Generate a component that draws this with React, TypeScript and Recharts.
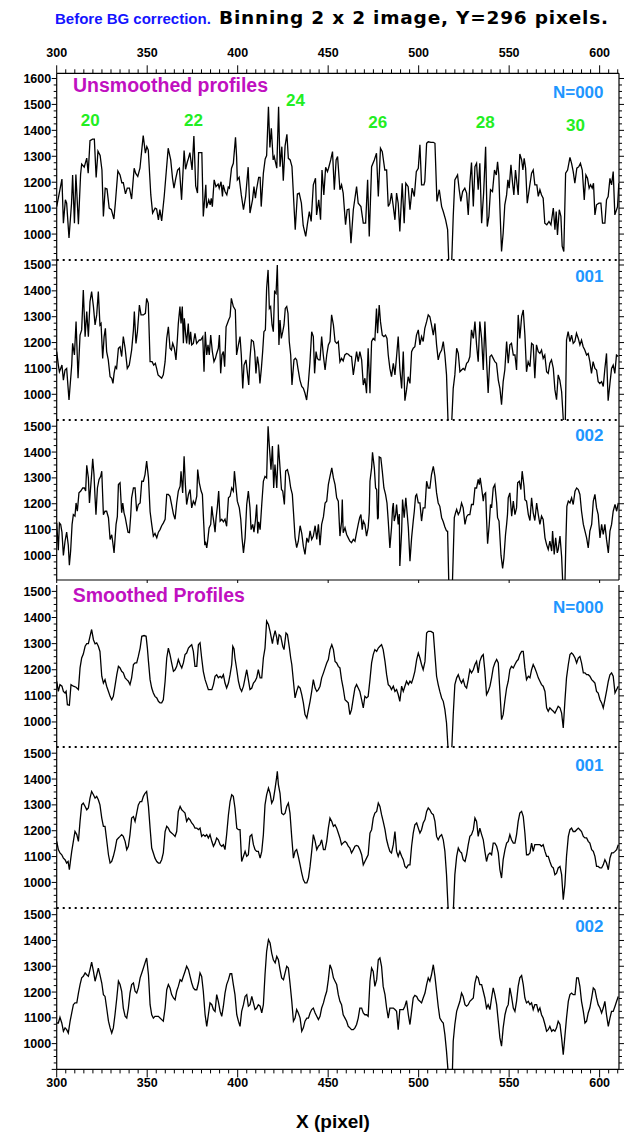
import React from "react";
import { LineChart, Line, XAxis, YAxis, ReferenceLine } from "recharts";

const FONT = '"Liberation Sans", Arial, Helvetica, sans-serif';

// x pixel range shown on every panel
const X_DOMAIN: [number, number] = [300, 610.7];
const xMinorTicks = Array.from({ length: 63 }, (_, i) => 300 + i * 5);
const xMajorTicks = [300, 350, 400, 450, 500, 550, 600];

// [x pixel, counts]
const unsmoothedN000: [number, number][] = [
  [300,1106],[302.9,1212],[303.7,1042],[304.8,1132],[305.5,1119],[306.8,985],[308.2,1119],[308.8,1228],[309.8,1042],[310.6,1230],
  [312,1038],[313.2,1230],[313.8,1270],[315.2,1258],[316.6,1293],[317.4,1235],[318.4,1360],[319.8,1366],[320.8,1366],[321.8,1218],
  [322.8,1320],[324,1303],[325,1247],[325.8,1068],[326.8,1177],[327.8,1174],[329,1100],[330.2,1094],[331.6,1058],[332.4,1119],
  [333.8,1243],[335,1228],[336,1198],[336.8,1198],[338,1155],[339,1177],[340.2,1177],[341.4,1135],[342.8,1254],[343.6,1235],
  [344.8,1222],[346,1254],[347.8,1380],[349,1312],[349.8,1337],[350.6,1324],[352,1151],[353,1081],[354.4,1100],[355.2,1097],
  [356.2,1055],[357,1094],[358,1051],[359.4,1145],[361.6,1331],[363,1286],[364,1215],[364.8,1177],[365.8,1215],[366.8,1247],
  [367.8,1254],[369,1132],[370.4,1322],[371.2,1250],[372.2,1279],[372.8,1292],[373.6,1314],[374.8,1247],[375.8,1378],[376.8,1186],
  [377.8,1158],[378.4,1314],[380.2,1314],[381,1068],[382.4,1190],[382.8,1100],[384,1132],[384.8,1113],[385.4,1138],[386,1106],
  [387,1209],[388,1183],[389.2,1193],[389.8,1177],[390.8,1202],[391.6,1145],[392,1190],[393,1164],[394,1151],[394.8,1181],
  [395.4,1177],[396.6,1254],[397.6,1273],[398.8,1373],[399.4,1299],[399.8,1209],[400.8,1219],[402,1151],[403.2,1094],[404.4,1145],
  [405.8,1258],[406.8,1081],[408.2,1132],[409,1183],[409.8,1138],[410.4,1171],[411.6,1219],[412.4,1219],[413,1106],[414.2,1235],
  [415.2,1290],[416,1303],[417,1491],[417.8,1334],[418.6,1408],[419.6,1286],[420.2,1299],[421.6,1254],[422.6,1491],[423.4,1260],
  [424.4,1337],[425.2,1206],[426.2,1340],[427.2,1385],[428,1292],[429,1286],[430,1260],[431.8,1017],[433,1155],[434,1158],
  [435.2,1119],[436.2,1033],[437.6,991],[438.6,1042],[439.6,1087],[440.6,1049],[441.8,1190],[443,1215],[443.6,1074],[444.8,1132],
  [445.8,1055],[446.6,1247],[447.6,1151],[448.6,1258],[449.6,1241],[450.2,1254],[451.4,1286],[452.4,1318],[453.4,1171],[454.4,1286],
  [455.2,1299],[456.5,1171],[457.4,1190],[458.3,1158],[459.6,1036],[460.5,1094],[461.5,1096],[462.6,965],[463.9,1094],[465.7,1183],
  [466.6,1119],[468.1,1106],[469.4,1042],[470.7,1042],[471.8,1209],[472.7,991],[474,1260],[475.5,1286],[476.7,1312],[477.7,1145],
  [478.9,1331],[479.9,1318],[481.3,1247],[482.3,1247],[483.2,1106],[484.1,1119],[485,1158],[486,1106],[486.9,1055],[487.8,1158],
  [488.7,1119],[489.6,1010],[490.9,1196],[492,1042],[492.9,1196],[494.2,1183],[495.2,1094],[496.4,1177],[497.6,1145],[498.7,1241],
  [499.8,1254],[500.7,1344],[501.6,1190],[502.9,1190],[503.4,1203],[504.4,1350],[505.3,1356],[506.8,1354],[508.1,1354],[509,1350],
  [510.1,1126],[511.4,1171],[512.7,1106],[513.6,1087],[514.9,1055],[516,1017],[516.7,880],[518.2,880],[519.1,1068],[520,1209],
  [521.5,1228],[522.4,1171],[523.3,1126],[524.3,1164],[525.5,1177],[526.5,1158],[527.4,1074],[528.3,1196],[529.2,1276],[530.2,1106],
  [531.1,1260],[532,1273],[532.9,1171],[533.8,1273],[534.8,1042],[535.9,1158],[537,1337],[537.9,1029],[538.8,1068],[539.7,1171],
  [540.8,1164],[541.9,1247],[542.9,1228],[543.6,1279],[544.3,1228],[544.9,1100],[545.8,933],[546.7,1004],[547.6,1113],[548.6,1151],
  [549.3,1209],[550,1177],[551,1267],[551.9,1196],[552.6,1151],[553.5,1247],[554.1,1209],[555,1151],[555.9,1309],[556.9,1286],
  [557.6,1247],[558.3,1292],[559.1,1254],[560,1119],[561.3,1183],[562.4,1235],[563.3,1247],[564.2,1190],[565.3,1190],[566.1,1145],
  [567,1171],[567.9,1151],[568.8,1138],[569.7,1042],[570.8,1036],[572,1049],[573.1,1036],[574.4,1100],[575.3,1017],[576,1087],
  [576.7,997],[577.7,1094],[578.6,1068],[579.3,953],[580.2,933],[581.2,1235],[582.3,1247],[583.6,1296],[584.5,1273],[585.4,1241],
  [586.3,1196],[587.4,1254],[588.5,1260],[589.4,1273],[590.4,1247],[591.5,1132],[592.4,1228],[593.3,1215],[594.2,1177],[595,1190],
  [595.9,1177],[596.6,1196],[597.4,1074],[598.3,1113],[599.6,1119],[600.7,1119],[601.6,1042],[602.9,1042],[603.8,1132],[604.7,1145],
  [605.7,1215],[606.6,1190],[607.5,1241],[608.4,1074],[609.9,1106],[610.6,1196],
];

const unsmoothedN001: [number, number][] = [
  [300,1165],[300.9,1113],[301.5,1087],[302.2,1100],[302.9,1113],[303.7,1055],[304.6,1094],[305.5,1100],[306.8,978],[308.3,1113],
  [308.8,1197],[309.8,1152],[310.7,1281],[311.8,1062],[312.9,1229],[313.8,1249],[314.7,1403],[315.7,1223],[316.6,1320],[317.5,1223],
  [318.4,1358],[319.3,1397],[320.3,1339],[321.2,1268],[322.1,1307],[323,1397],[323.9,1268],[324.5,1274],[325.4,1139],[326.2,1223],
  [326.9,1255],[327.6,1165],[328.5,1133],[329.5,1068],[330.4,1062],[331.1,1042],[331.7,1081],[332.4,1107],[333.1,1100],[334.1,1178],
  [335,1184],[335.9,1146],[336.8,1223],[337.8,1178],[339,1100],[340.1,1113],[341.4,1171],[342.4,1249],[342.9,1320],[343.8,1197],
  [344.6,1242],[345.7,1345],[346.6,1307],[347.9,1307],[349,1313],[349.7,1371],[350.6,1352],[351.6,1126],[352.7,1126],[353.6,1113],
  [354.5,1120],[355.2,1100],[356,1075],[357.1,1068],[358,1062],[358.9,1075],[359.9,1126],[360.8,1216],[361.7,1261],[362.6,1178],
  [363.4,1171],[364.1,1197],[365,1178],[365.9,1133],[366.7,1216],[367.2,1274],[368.1,1339],[368.7,1274],[369.4,1339],[370,1197],
  [370.5,1294],[371.3,1229],[371.8,1197],[372.7,1274],[373.3,1193],[374,1242],[374.6,1191],[375.5,1197],[376.4,1236],[377.3,1197],
  [378.1,1204],[378.8,1210],[379.6,1210],[380.7,1223],[381.4,1087],[382.1,1242],[382.9,1152],[383.6,1191],[384.3,1152],[385.1,1229],
  [386,1165],[386.9,1126],[387.7,1139],[388.4,1158],[389.3,1178],[389.9,1229],[390.6,1081],[391.3,1152],[392.1,1165],[392.8,1107],
  [393.6,1261],[394.3,1274],[395,1287],[395.8,1300],[396.5,1371],[397.6,1339],[398.7,1326],[399.4,1152],[400.4,1191],[401.3,1223],
  [402,1152],[402.8,1023],[403.5,1113],[404.6,1133],[405.3,1087],[406.1,1036],[406.8,1139],[407.6,1210],[408.7,1204],[409.4,1165],
  [410.1,1081],[410.9,1146],[411.6,1113],[412.3,1042],[413.1,1100],[413.8,1165],[414.5,1242],[415.3,1249],[416,1410],[416.8,1481],
  [417.5,1332],[418.2,1339],[419,1268],[419.7,1242],[420.4,1397],[421.2,1390],[421.9,1500],[422.8,1191],[423.4,1287],[424.1,1216],
  [424.9,1242],[425.6,1268],[426.3,1332],[427.1,1339],[427.8,1313],[428.5,1204],[429.3,1152],[430,1036],[431.1,1133],[431.9,1139],
  [432.6,1133],[433.3,1100],[434.4,1055],[435.4,1030],[436.3,1023],[437.2,1004],[438.1,978],[438.9,1030],[439.9,1120],[440.9,1242],
  [441.8,1223],[442.5,1081],[443.3,1165],[444,1139],[444.8,1133],[445.5,1133],[446.4,1223],[447.3,1152],[448.3,1094],[449.2,1152],
  [450.1,1191],[451,1204],[451.9,1307],[452.9,1268],[453.8,1204],[454.7,1197],[455.6,1204],[456.5,1126],[457.4,1139],[458.3,1129],
  [459.2,1152],[460.2,1158],[461.1,1155],[462,1148],[462.9,1146],[463.9,1075],[464.8,1120],[465.7,1165],[466.6,1126],[467.5,1165],
  [468.5,1133],[469.4,1036],[470.3,1062],[471.2,1004],[472.1,1178],[473.1,1004],[474,1204],[474.9,1216],[475.8,1210],[476.7,1332],
  [477.3,1236],[478.2,1345],[478.9,1281],[479.9,1229],[480.8,1223],[481.7,1229],[482.5,1216],[483.2,1152],[484.1,1100],[485,1068],
  [486,1120],[486.9,1075],[487.8,1146],[488.7,1223],[489.6,1100],[490.6,1023],[491.5,1165],[492.4,975],[493.3,1017],[494.2,1068],
  [495.2,1042],[496.1,1165],[497,1178],[497.9,1184],[498.8,1229],[499.8,1249],[500.7,1191],[501.6,1223],[502.5,1204],[503.4,1255],
  [504.4,1281],[505.3,1307],[506.2,1300],[507.1,1268],[508.1,1229],[509,1274],[509.9,1191],[510.8,1133],[511.7,1158],[512.7,1171],
  [513.6,1204],[514.5,1152],[515.4,1075],[516.3,880],[518.2,880],[519.1,1023],[520,1075],[521,1178],[521.9,1158],[522.8,1087],
  [523.7,1094],[524.6,1100],[525.5,1094],[526.5,1120],[527.4,1126],[528.3,1146],[529.2,1249],[530.2,1216],[531.1,1281],[532,1191],
  [532.9,1126],[533.8,1281],[534.8,1216],[535.7,1094],[536.6,1281],[537.5,1133],[538.4,1005],[539.4,1146],[540.3,1152],[541.2,1139],
  [542.1,1126],[543,1120],[544,1055],[544.9,1023],[545.8,960],[546.7,1049],[547.6,1094],[548.6,1204],[549.5,1120],[550.4,1191],
  [551.3,1197],[552.3,1152],[553.2,1152],[554.1,1094],[555,1307],[555.9,1216],[556.9,1300],[557.8,1326],[558.7,1229],[559.6,1087],
  [560.5,1126],[561.5,1107],[562.4,1197],[563.3,1191],[564.2,1062],[565.1,1191],[566.1,1165],[567,1158],[567.9,1171],[568.8,1139],
  [569.7,1152],[570.7,1087],[571.6,1081],[572.5,1120],[573.4,1133],[574.4,1100],[575.3,1017],[576.2,979],[577.1,1075],[578,1055],
  [579,1010],[580.1,880],[581,880],[581.7,1210],[582.6,1242],[583.6,1204],[584.5,1229],[585.4,1197],[586.3,1204],[587.2,1236],
  [588.2,1216],[589.1,1191],[590,1210],[590.9,1184],[591.8,1171],[592.8,1152],[593.7,1158],[594.6,1126],[595.5,1081],[596.4,1126],
  [597.4,1100],[598.3,1094],[599.2,1049],[600.1,1042],[601.1,1049],[602,1030],[602.9,1100],[603.8,1158],[604.7,975],[605.7,1042],
  [606.6,1100],[607.5,1113],[608.4,1081],[609.3,1152],[610.3,1146],
];

const unsmoothedN002: [number, number][] = [
  [300,1126],[300.9,1020],[301.5,1126],[302.2,1120],[302.9,1090],[303.7,1000],[304.6,1055],[305.5,1090],[306.4,1040],[307,962],
  [307.7,1017],[308.5,1120],[309.2,1158],[310.1,1152],[310.7,1203],[311.4,1171],[312.3,1242],[313.3,1249],[314.4,1261],[315.3,1261],
  [316,1249],[316.6,1349],[317.5,1300],[318.1,1203],[319.3,1313],[319.9,1374],[320.6,1313],[321.2,1223],[321.7,1158],[322.5,1261],
  [323.4,1294],[324.3,1306],[324.9,1326],[325.8,1158],[326.7,1171],[327.6,1171],[328.6,1146],[329.5,1062],[330.4,1080],[330.9,1055],
  [331.7,1010],[332.8,1120],[333.5,1150],[334.1,1274],[335,1281],[335.9,1165],[336.5,1203],[337.2,1165],[337.9,1146],[338.7,1115],
  [339.4,1090],[340.2,1088],[340.9,1155],[341.4,1223],[342.4,1261],[343.3,1261],[344.2,1171],[345.1,1197],[346.1,1203],[347,1287],
  [347.9,1287],[348.8,1313],[349.7,1365],[350.7,1300],[351.6,1170],[352.5,1120],[353.4,1075],[354.3,1085],[355.3,1068],[356.2,1090],
  [357.1,1100],[358,1115],[358.9,1125],[359.9,1140],[360.8,1236],[361.7,1236],[362.6,1229],[363.5,1197],[364.5,1160],[365.4,1140],
  [366.3,1203],[367.2,1249],[368.2,1268],[368.7,1326],[369.6,1242],[370.4,1384],[371.1,1274],[371.8,1197],[372.8,1236],[373.7,1255],
  [374.6,1184],[375.5,1210],[376.4,1197],[377.4,1229],[377.9,1332],[378.8,1281],[379.8,1249],[380.5,1236],[381,1158],[381.8,1045],
  [382.3,1050],[382.9,1029],[383.4,1055],[384.2,1106],[385.1,1120],[385.7,1190],[386.2,1158],[386.9,1125],[387.5,1090],[388,1140],
  [388.8,1190],[389.5,1249],[390.3,1133],[391.2,1140],[392.1,1130],[393,1140],[393.9,1113],[394.9,1223],[395.8,1229],[396.7,1261],
  [397.6,1249],[398.2,1326],[399.1,1261],[399.8,1210],[400.9,1184],[401.7,1140],[402.4,1068],[403.2,1010],[404.1,1068],[405,1197],
  [405.9,1249],[406.8,1184],[407.4,1100],[408.3,1120],[409,1090],[409.8,1135],[410.5,1197],[411.1,1085],[411.6,1130],[412.4,1100],
  [413.3,1197],[414.2,1287],[415.1,1306],[416,1300],[416.8,1500],[417.5,1423],[418.4,1332],[419.2,1423],[419.9,1261],[420.6,1352],
  [421.6,1261],[422.5,1429],[423.4,1339],[424.2,1255],[424.9,1249],[425.8,1197],[426.5,1326],[427.5,1332],[428.4,1306],[429.3,1261],
  [430.2,1236],[430.8,1171],[431.7,1070],[432.6,1030],[433.5,1055],[434.5,1115],[435.4,1085],[436.3,1035],[437.2,1004],[438.2,1068],
  [439.1,1050],[440,1095],[440.9,1062],[441.8,1075],[442.8,1115],[443.7,1062],[444.6,1120],[445.5,1040],[446.4,1120],[447.4,1150],
  [448.3,1203],[449.2,1210],[450.1,1274],[451,1306],[452,1339],[452.9,1300],[453.8,1274],[454.7,1223],[455.6,1210],[456.5,1075],
  [457.4,1130],[457.8,1216],[458.3,1088],[459.3,1107],[460.2,1081],[461.1,1068],[462,1055],[462.9,1049],[463.9,1062],[464.8,1055],
  [465.7,1088],[466.6,1120],[467.4,1146],[468.1,1158],[468.8,1100],[469.4,1133],[470.3,1120],[471.2,1075],[472.1,1107],[472.7,1165],
  [473.1,1287],[474,1339],[474.5,1399],[475.5,1339],[476.2,1261],[476.8,1255],[477.3,1140],[477.7,1146],[478.2,1381],[479.1,1377],
  [479.9,1326],[480.8,1261],[481.7,1236],[482.5,1203],[483.2,1133],[484.1,1029],[485,1107],[485.6,1184],[486,1203],[486.5,1133],
  [487.3,1158],[487.8,1197],[488.7,1120],[489.3,1160],[489.6,959],[490.6,1094],[491.1,1216],[492,1146],[492.9,1223],[493.7,1158],
  [494.3,1107],[495.2,978],[496.1,1068],[497,1133],[497.6,1171],[498.3,1230],[498.9,1236],[499.8,1203],[500.7,1203],[501.6,1133],
  [502.5,1184],[503.5,1184],[504.4,1287],[505.3,1261],[506.2,1261],[507.1,1313],[508.1,1345],[509,1306],[509.9,1242],[510.8,1203],
  [511.7,1190],[512.7,1146],[513.6,1130],[514.5,1110],[515.4,1095],[516,1094],[516.7,880],[518.6,880],[519.7,1146],[520.4,1165],
  [521,1178],[521.9,1158],[522.8,1171],[523.7,1203],[524.6,1184],[525.6,1120],[526.5,1150],[527.4,1158],[528.3,1158],[529.2,1197],
  [530.2,1197],[531.1,1261],[532,1261],[532.9,1294],[533.5,1274],[534,1300],[534.8,1261],[535.7,1210],[536.2,1236],[537,1242],
  [537.5,1146],[538.1,1045],[539,1120],[539.7,1197],[540.3,1184],[541.2,1261],[542.1,1274],[543.1,1203],[543.6,1146],[544.4,1133],
  [545.5,1001],[546.4,950],[547.1,990],[548,1081],[548.6,1120],[549.1,1160],[549.5,1223],[550.4,1242],[551.4,1152],[552.3,1210],
  [553.2,1158],[554.1,1184],[554.7,1281],[555.6,1287],[556.5,1255],[557.2,1326],[558.2,1268],[558.7,1216],[559.6,1210],[560.6,1158],
  [561.5,1135],[562.4,1223],[563.3,1165],[564.2,1135],[565.2,1203],[566.1,1158],[567,1120],[567.9,1152],[568.8,1139],[569.8,1068],
  [570.7,1042],[571.6,1023],[572.5,1055],[573.5,1017],[574,1094],[574.9,1004],[575.7,1068],[576.6,1010],[577.1,1023],[578.1,1075],
  [579,995],[579.7,880],[580.8,880],[581.4,1068],[581.9,1190],[582.7,1210],[583.6,1203],[584.5,1223],[585.4,1197],[586.4,1249],
  [587.3,1261],[588.2,1255],[589.1,1236],[590,1171],[591,1120],[591.9,1094],[592.8,1068],[593.7,1029],[594.6,1094],[595.6,1120],
  [596.5,1210],[597.4,1236],[598.3,1184],[599.2,1158],[600.2,1068],[601.1,1120],[602,1081],[602.9,1120],[603.8,1062],[604.8,1010],
  [605.7,1094],[606.6,1120],[607.5,1171],[608.5,1197],[609.4,1171],[610.3,1203],
];

const smoothedN000: [number, number][] = [
  [300,1156],[300.9,1117],[301.8,1143],[302.9,1137],[303.7,1117],[304.6,1111],[305.2,1117],[305.9,1066],[307,1064],[307.9,1143],
  [309.2,1137],[310.7,1133],[312,1124],[312.9,1207],[313.8,1245],[314.7,1260],[315.7,1290],[316.6,1300],[317.5,1300],[318.4,1328],
  [319.3,1354],[320.3,1315],[321.2,1299],[322.1,1303],[323,1290],[323.9,1270],[324.9,1175],[325.8,1149],[326.7,1162],[327.6,1137],
  [328.6,1117],[329.5,1098],[330.4,1085],[331.3,1098],[332.2,1137],[333.2,1181],[334.1,1213],[335,1207],[335.9,1194],[336.8,1188],
  [337.8,1169],[338.7,1162],[339.6,1156],[340.5,1143],[341.4,1169],[342.4,1220],[343.3,1226],[344.2,1226],[345.1,1251],[346.1,1283],
  [347,1328],[348.3,1331],[349.4,1328],[350.1,1283],[350.7,1232],[351.6,1162],[352.5,1130],[353.4,1111],[354.3,1098],[355.3,1092],
  [356.2,1079],[357.1,1073],[358,1073],[358.9,1085],[359.9,1156],[360.8,1245],[361.7,1283],[362.6,1258],[363.5,1226],[364.5,1194],
  [365.4,1200],[366.3,1213],[367.2,1239],[368.2,1220],[369.1,1207],[370,1226],[370.9,1258],[371.8,1264],[372.8,1283],[373.7,1290],
  [374.6,1296],[375.5,1270],[376.4,1213],[377.4,1213],[378.3,1296],[379.2,1303],[380.1,1245],[381,1194],[382,1162],[382.9,1143],
  [383.8,1124],[384.7,1124],[385.7,1124],[386.6,1143],[387.5,1175],[388.4,1181],[389.3,1169],[390.3,1175],[391.2,1169],[392.1,1181],
  [393,1149],[393.9,1130],[394.9,1149],[395.8,1181],[396.7,1220],[397.3,1290],[398,1280],[398.5,1245],[399.5,1200],[400.4,1156],
  [401.3,1130],[402.2,1117],[403.2,1137],[404.1,1169],[405,1200],[405.9,1162],[406.8,1124],[407.8,1130],[408.7,1149],[409.6,1156],
  [410.5,1169],[411.4,1200],[412.4,1169],[413.3,1169],[414.2,1245],[415.1,1283],[416,1386],[417,1373],[417.9,1347],[419.2,1300],
  [419.7,1322],[420.7,1350],[421.6,1322],[422.1,1296],[422.9,1334],[423.8,1328],[424.9,1290],[425.6,1277],[426.7,1341],[427.5,1335],
  [428.6,1283],[429.3,1245],[429.9,1220],[430.8,1156],[431.7,1092],[432.6,1117],[433.5,1137],[434.5,1130],[435.4,1105],[436.3,1073],
  [437.2,1028],[438.2,1015],[439.1,1047],[440,1079],[440.9,1117],[441.8,1162],[442.8,1130],[443.7,1117],[444.6,1124],[445.5,1137],
  [446.4,1169],[447.4,1188],[448.3,1207],[449.2,1226],[450.1,1239],[451,1277],[452,1296],[452.9,1277],[453.8,1232],[454.7,1226],
  [455.6,1213],[456.5,1207],[457.4,1162],[458.3,1130],[459.3,1085],[460.2,1079],[461.1,1073],[462,1028],[462.9,1047],[463.9,1092],
  [464.8,1130],[465.7,1143],[466.6,1130],[467.5,1117],[468.5,1085],[469.4,1054],[470.3,1098],[471.2,1092],[472.1,1098],[473.1,1162],
  [474,1226],[474.9,1258],[475.8,1277],[476.8,1270],[477.7,1283],[478.6,1290],[479.5,1296],[480.4,1277],[481.4,1232],[482.3,1181],
  [483.2,1143],[484.1,1137],[485,1124],[486,1137],[486.9,1117],[487.8,1124],[488.7,1105],[489.6,1079],[490.6,1137],[491.5,1117],
  [492.4,1137],[493.3,1156],[494.3,1143],[495.2,1156],[496.1,1149],[497,1169],[497.9,1194],[498.9,1239],[499.8,1264],[500.7,1245],
  [501.6,1220],[502.5,1200],[503.5,1232],[504.4,1341],[505.3,1347],[506.8,1347],[508.1,1341],[509,1258],[509.9,1175],[510.8,1143],
  [511.7,1117],[512.7,1092],[513.6,1079],[514.5,1047],[515.4,996],[516.4,880],[518.2,880],[519.1,1028],[520,1143],[521,1169],
  [521.9,1181],[522.8,1162],[523.7,1149],[524.6,1162],[525.6,1137],[526.5,1130],[527.4,1162],[528.3,1200],[529.2,1188],[530.2,1200],
  [531.1,1220],[532,1232],[532.9,1188],[533.8,1232],[534.8,1251],[535.7,1258],[536.6,1194],[537.5,1105],[538.4,1117],[539.4,1137],
  [540.3,1169],[541.2,1207],[542.1,1226],[543.1,1239],[544,1226],[544.9,1117],[545.8,1009],[546.7,1028],[547.7,1085],[548.6,1130],
  [549.5,1156],[550.4,1200],[551.3,1213],[552.3,1207],[553.2,1220],[554.1,1232],[555,1239],[555.9,1258],[556.9,1270],[557.8,1270],
  [558.7,1207],[559.6,1162],[560.6,1175],[561.5,1169],[562.4,1200],[563.3,1220],[564.2,1207],[565.2,1188],[566.1,1169],[567,1156],
  [567.9,1143],[568.8,1137],[569.8,1117],[570.7,1054],[571.6,1041],[572.5,1054],[573.5,1047],[574.4,1041],[575.3,1034],[576.2,1047],
  [577.1,1060],[578.1,1054],[579,1034],[579.9,977],[580.8,1079],[581.7,1169],[582.7,1220],[583.6,1258],[584.5,1264],[585.4,1258],
  [586.4,1245],[587.3,1226],[588.2,1245],[589.1,1251],[590,1226],[591,1188],[591.9,1188],[592.8,1181],[593.7,1181],[594.6,1175],
  [595.6,1162],[596.5,1156],[597.4,1149],[598.3,1117],[599.2,1111],[600.2,1085],[601.1,1073],[602,1054],[602.9,1085],[603.8,1117],
  [604.8,1156],[605.7,1181],[606.6,1188],[607.5,1175],[608.5,1111],[609.4,1124],[610.3,1137],
];

const smoothedN001: [number, number][] = [
  [300,1159],[300.9,1127],[301.8,1114],[302.8,1107],[303.7,1094],[304.6,1088],[305.5,1075],[306.3,1081],[307,1049],[307.7,1088],
  [308.3,1120],[309.2,1159],[310.1,1197],[311.1,1185],[312,1159],[312.9,1236],[313.8,1300],[314.7,1307],[315.7,1294],[316.6,1281],
  [317.5,1288],[318.4,1326],[319.3,1352],[320.3,1339],[321.2,1326],[322.1,1333],[323,1320],[323.9,1300],[324.9,1249],[325.8,1217],
  [326.7,1217],[327.6,1165],[328.6,1107],[329.5,1075],[330.4,1081],[331.3,1101],[332.2,1127],[333.2,1165],[334.1,1172],[335,1178],
  [335.9,1185],[336.8,1178],[337.8,1159],[338.7,1127],[339.6,1140],[340.5,1185],[341.4,1249],[342.4,1255],[343.3,1236],[344.2,1268],
  [345.1,1300],[346.1,1313],[347,1313],[347.9,1333],[348.8,1345],[349.7,1352],[350.7,1294],[351.6,1210],[352.5,1133],[353.4,1114],
  [354.3,1094],[355.3,1081],[356.2,1075],[357.1,1075],[358,1088],[358.9,1114],[359.9,1197],[360.8,1217],[361.7,1210],[362.6,1197],
  [363.5,1191],[364.5,1185],[365.4,1178],[366.3,1197],[367.2,1275],[368.2,1294],[369.1,1281],[370,1275],[370.9,1268],[371.8,1236],
  [372.8,1249],[373.7,1242],[374.6,1230],[375.5,1223],[376.4,1210],[377.4,1210],[378.3,1204],[379.2,1210],[380.1,1178],[381,1185],
  [382,1178],[382.9,1185],[383.8,1172],[384.7,1185],[385.7,1159],[386.6,1140],[387.5,1152],[388.4,1172],[389.3,1165],[390.3,1146],
  [391.2,1140],[392.1,1146],[393,1127],[393.9,1185],[394.9,1262],[395.8,1313],[396.7,1339],[397.6,1333],[398.5,1288],[399.5,1210],
  [400.4,1204],[401.3,1204],[402.2,1081],[403.2,1101],[404.1,1120],[405,1101],[405.9,1107],[406.8,1178],[407.8,1185],[408.7,1146],
  [409.6,1127],[410.5,1120],[411.4,1120],[412.4,1094],[413.3,1120],[414.2,1185],[415.1,1300],[416,1339],[417,1365],[417.9,1345],
  [418.8,1307],[419.7,1320],[420.7,1365],[421.6,1410],[421.9,1430],[422.5,1378],[423.4,1345],[424.3,1268],[425.3,1262],[426.2,1268],
  [427.1,1294],[428,1307],[428.9,1268],[429.9,1172],[430.8,1094],[431.7,1120],[432.6,1127],[433.5,1101],[434.5,1068],[435.4,1036],
  [436.3,1010],[437.2,998],[438.2,998],[439.1,1017],[440,1062],[440.9,1120],[441.8,1185],[442.8,1159],[443.7,1127],[444.6,1140],
  [445.5,1146],[446.4,1165],[447.4,1127],[448.3,1127],[449.2,1159],[450.1,1210],[451,1249],[452,1236],[452.9,1217],[453.8,1223],
  [454.7,1210],[455.6,1191],[456.5,1172],[457.4,1146],[458.3,1153],[459.3,1159],[460.2,1153],[461.1,1140],[462,1133],[462.9,1114],
  [463.9,1127],[464.8,1140],[465.7,1143],[466.6,1140],[467.5,1127],[468.5,1107],[469.4,1068],[470.3,1081],[471.2,1094],[472.1,1107],
  [473.1,1191],[474,1204],[474.9,1249],[475.8,1268],[476.8,1275],[477.7,1307],[478.6,1294],[479.5,1262],[480.4,1236],[481.4,1204],
  [482.3,1165],[483.2,1140],[484.1,1120],[485,1114],[486,1146],[486.9,1197],[487.8,1120],[488.7,1101],[489.6,1120],[490.6,1101],
  [491.5,1088],[492.4,1062],[493.3,1056],[494.3,1068],[495.2,1068],[496.1,1140],[497,1191],[497.9,1223],[498.9,1230],[499.8,1210],
  [500.7,1191],[501.6,1204],[502.5,1230],[503.5,1243],[504.4,1275],[505.3,1288],[506.2,1281],[507.1,1268],[508.1,1262],[509,1236],
  [509.9,1178],[510.8,1165],[511.7,1178],[512.7,1185],[513.6,1165],[514.5,1120],[515.4,1030],[516.4,880],[519.1,880],[520,1030],
  [521,1101],[521.9,1133],[522.8,1120],[523.7,1114],[524.6,1088],[525.6,1081],[526.5,1107],[527.4,1146],[528.3,1178],[529.2,1185],
  [530.2,1204],[531.1,1249],[532,1236],[532.9,1178],[533.8,1210],[534.8,1185],[535.7,1165],[536.6,1120],[537.5,1081],[538.4,1107],
  [539.4,1114],[540.3,1107],[541.2,1152],[542.1,1152],[543.1,1140],[544,1114],[544.9,1049],[545.8,1017],[546.7,1088],[547.7,1127],
  [548.6,1152],[549.5,1159],[550.4,1185],[551.3,1165],[552.3,1152],[553.2,1152],[554.1,1185],[555,1236],[555.9,1268],[556.9,1275],
  [557.8,1255],[558.7,1191],[559.6,1107],[560.6,1107],[561.5,1114],[562.4,1152],[563.3,1120],[564.2,1146],[565.2,1146],[566.1,1146],
  [567,1146],[567.9,1140],[568.8,1146],[569.8,1120],[570.7,1101],[571.6,1101],[572.5,1081],[573.5,1062],[574.4,1056],[575.3,1030],
  [576.2,1036],[577.1,1056],[578.1,1062],[579,1030],[579.9,933],[580.8,991],[581.7,1101],[582.7,1178],[583.6,1204],[584.5,1210],
  [585.4,1197],[586.4,1197],[587.3,1204],[588.2,1210],[589.1,1204],[590,1197],[591,1178],[591.9,1172],[592.8,1172],[593.7,1159],
  [594.6,1152],[595.6,1127],[596.5,1120],[597.4,1101],[598.3,1062],[599.2,1062],[600.2,1056],[601.1,1056],[602,1068],[602.9,1088],
  [603.8,1075],[604.8,1049],[605.7,1094],[606.6,1114],[607.5,1114],[608.5,1120],[609.4,1127],[610.3,1146],
];

const smoothedN002: [number, number][] = [
  [300,1080],[300.9,1080],[301.8,1102],[302.8,1080],[303.7,1048],[304.6,1061],[305.5,1054],[306.4,1041],[307.4,1087],[308.3,1119],
  [309.2,1151],[310.1,1158],[311.1,1158],[312,1196],[312.9,1229],[313.8,1255],[314.7,1261],[315.7,1274],[316.6,1267],[317.5,1261],
  [318.4,1287],[319.3,1316],[320.3,1280],[321.2,1242],[322.1,1267],[323,1293],[323.9,1267],[324.9,1235],[325.8,1190],[326.7,1183],
  [327.6,1138],[328.6,1087],[329.5,1061],[330.4,1041],[331.3,1061],[332.2,1112],[333.2,1177],[334.1,1242],[335,1229],[335.9,1203],
  [336.8,1138],[337.8,1106],[338.7,1099],[339.6,1138],[340.5,1196],[341.4,1229],[342.4,1235],[343.3,1203],[344.2,1196],[345.1,1216],
  [346.1,1255],[347,1274],[347.9,1293],[348.8,1313],[349.7,1332],[350.7,1267],[351.6,1151],[352.5,1112],[353.4,1099],[354.3,1106],
  [355.3,1106],[356.2,1106],[357.1,1099],[358,1093],[358.9,1087],[359.9,1138],[360.8,1209],[361.7,1229],[362.6,1216],[363.5,1190],
  [364.5,1177],[365.4,1170],[366.3,1203],[367.2,1222],[368.2,1248],[369.1,1242],[370,1261],[370.9,1280],[371.8,1300],[372.8,1287],
  [373.7,1261],[374.6,1235],[375.5,1216],[376.4,1209],[377.4,1209],[378.3,1235],[379.2,1274],[380.1,1261],[381,1203],[382,1112],
  [382.9,1067],[383.8,1112],[384.7,1158],[385.7,1151],[386.6,1132],[387.5,1125],[388.4,1190],[389.3,1164],[390.3,1125],[391.2,1106],
  [392.1,1145],[393,1196],[393.9,1229],[394.9,1248],[395.8,1271],[396.7,1271],[397.6,1229],[398.5,1190],[399.5,1112],[400.4,1087],
  [401.3,1067],[402.2,1125],[403.2,1151],[404.1,1183],[405,1190],[405.9,1145],[406.8,1151],[407.8,1183],[408.7,1158],[409.6,1132],
  [410.5,1138],[411.4,1151],[412.4,1145],[413.3,1119],[414.2,1151],[415.1,1267],[416,1358],[417,1403],[417.9,1390],[418.8,1351],
  [419.7,1325],[420.7,1313],[421.6,1338],[422.5,1325],[423.4,1287],[424.3,1255],[425.3,1248],[426.2,1274],[427.1,1300],[428,1293],
  [428.9,1235],[429.9,1164],[430.8,1087],[431.7,1099],[432.6,1132],[433.5,1119],[434.5,1099],[435.4,1048],[436.3,1061],[437.2,1087],
  [438.2,1099],[439.1,1099],[440,1119],[440.9,1132],[441.8,1138],[442.8,1119],[443.7,1106],[444.6,1093],[445.5,1106],[446.4,1138],
  [447.4,1158],[448.3,1183],[449.2,1203],[450.1,1248],[451,1306],[452,1287],[452.9,1255],[453.8,1242],[454.7,1229],[455.6,1190],
  [456.5,1164],[457.4,1151],[458.3,1112],[459.3,1099],[460.2,1087],[461.1,1067],[462,1061],[462.9,1054],[463.9,1054],[464.8,1061],
  [465.7,1074],[466.6,1099],[467.5,1138],[468.5,1138],[469.4,1119],[470.3,1112],[471.2,1112],[472.1,1106],[473.1,1242],[474,1293],
  [474.9,1280],[475.8,1222],[476.8,1248],[477.7,1325],[478.6,1332],[479.5,1300],[480.4,1222],[481.4,1190],[482.3,1138],[483.2,1099],
  [484.1,1138],[485,1138],[486,1138],[486.9,1132],[487.8,1125],[488.7,1054],[489.6,1132],[490.6,1132],[491.5,1132],[492.4,1145],
  [493.3,1167],[494.3,1112],[495.2,1074],[496.1,1125],[497,1177],[497.9,1187],[498.9,1183],[499.8,1170],[500.7,1164],[501.6,1158],
  [502.5,1177],[503.5,1196],[504.4,1229],[505.3,1255],[506.2,1242],[507.1,1267],[508.1,1306],[509,1261],[509.9,1203],[510.8,1145],
  [511.7,1099],[512.7,1087],[513.6,1080],[514.5,1035],[515.4,970],[516.4,880],[518.6,880],[519.1,1009],[520,1074],[521,1125],
  [521.9,1145],[522.8,1164],[523.7,1196],[524.6,1183],[525.6,1151],[526.5,1145],[527.4,1151],[528.3,1164],[529.2,1170],[530.2,1177],
  [531.1,1235],[532,1261],[532.9,1255],[533.8,1229],[534.8,1229],[535.7,1203],[536.6,1177],[537.5,1138],[538.4,1151],[539.4,1132],
  [540.3,1177],[541.2,1216],[542.1,1190],[543.1,1151],[544,1087],[544.9,1022],[545.8,990],[546.7,1061],[547.7,1112],[548.6,1138],
  [549.5,1151],[550.4,1216],[551.3,1183],[552.3,1138],[553.2,1125],[554.1,1164],[555,1222],[555.9,1255],[556.9,1264],[557.8,1229],
  [558.7,1177],[559.6,1158],[560.6,1164],[561.5,1151],[562.4,1158],[563.3,1132],[564.2,1151],[565.2,1151],[566.1,1125],[567,1138],
  [567.9,1112],[568.8,1099],[569.8,1074],[570.7,1048],[571.6,1054],[572.5,1067],[573.5,1048],[574.4,1054],[575.3,1048],[576.2,1061],
  [577.1,1087],[578.1,1074],[579,1022],[579.9,957],[580.8,1028],[581.7,1099],[582.7,1164],[583.6,1190],[584.5,1196],[585.4,1190],
  [586.4,1190],[587.3,1255],[588.2,1255],[589.1,1222],[590,1164],[591,1125],[591.9,1080],[592.8,1087],[593.7,1119],[594.6,1138],
  [595.6,1177],[596.5,1216],[597.4,1209],[598.3,1177],[599.2,1151],[600.2,1138],[601.1,1119],[602,1138],[602.9,1164],[603.8,1112],
  [604.8,1067],[605.7,1099],[606.6,1125],[607.5,1125],[608.5,1145],[609.4,1164],[610.3,1183],
];

type AxisKind = "top" | "divider" | "bottom" | "none";

interface PanelSpec {
  series: [number, number][];
  plotTop: number;
  plotBottom: number;
  yDomain: [number, number];
  xAxis: AxisKind;
  dottedTop: boolean;
}

const panels: PanelSpec[] = [
  { series: unsmoothedN000, plotTop: 73.3, plotBottom: 260, yDomain: [900, 1620], xAxis: "top", dottedTop: false },
  { series: unsmoothedN001, plotTop: 260, plotBottom: 420, yDomain: [900.6, 1519.3], xAxis: "none", dottedTop: true },
  { series: unsmoothedN002, plotTop: 420, plotBottom: 580, yDomain: [905, 1524], xAxis: "divider", dottedTop: true },
  { series: smoothedN000, plotTop: 585, plotBottom: 747.3, yDomain: [903, 1524.5], xAxis: "none", dottedTop: false },
  { series: smoothedN001, plotTop: 747.3, plotBottom: 908.3, yDomain: [901, 1524], xAxis: "none", dottedTop: true },
  { series: smoothedN002, plotTop: 908.3, plotBottom: 1069.7, yDomain: [900, 1526], xAxis: "bottom", dottedTop: true },
];

const PLOT_LEFT = 56.7;
const PLOT_RIGHT = 619;
const W = 625;
const AX = 1; // thickness reserved for each axis (recharts skips axes of size 0)

const yTickValues = (d: [number, number]) =>
  Array.from({ length: 29 }, (_, i) => 900 + i * 25).filter((v) => v >= d[0] - 0.01 && v <= d[1]);

const LeftTick = (props: any) => {
  const { x, y, payload } = props;
  const v = payload.value;
  const major = v % 100 === 0;
  return (
    <g>
      <line x1={x} x2={x - (major ? 5 : 3)} y1={y} y2={y} stroke="#000" strokeWidth={1} />
      {major && v >= 1000 && (
        <text x={x - 5.5} y={y + 4.5} textAnchor="end" fontSize={12.5} fontWeight="bold" fontFamily={FONT} fill="#000">
          {v}
        </text>
      )}
    </g>
  );
};

const RightTick = (props: any) => {
  const { x, y, payload } = props;
  const major = payload.value % 100 === 0;
  return <line x1={x} x2={x + (major ? 5 : 3)} y1={y} y2={y} stroke="#000" strokeWidth={1} />;
};

const TopTick = (props: any) => {
  const { x, y, payload } = props;
  const major = payload.value % 50 === 0;
  return (
    <g>
      <line x1={x} x2={x} y1={y} y2={y - (major ? 8 : 4)} stroke="#000" strokeWidth={1} />
      {major && (
        <text x={x} y={y - 16.5} textAnchor="middle" fontSize={12.5} fontWeight="bold" fontFamily={FONT} fill="#000">
          {payload.value}
        </text>
      )}
    </g>
  );
};

const BottomTick = (props: any) => {
  const { x, y, payload } = props;
  const major = payload.value % 50 === 0;
  return (
    <g>
      <line x1={x} x2={x} y1={y} y2={y + (major ? 8 : 4)} stroke="#000" strokeWidth={1} />
      {major && (
        <text x={x} y={y + 18} textAnchor="middle" fontSize={12.5} fontWeight="bold" fontFamily={FONT} fill="#000">
          {payload.value}
        </text>
      )}
    </g>
  );
};

const DividerTick = (props: any) => {
  const { x, y } = props;
  return <line x1={x} x2={x} y1={y} y2={y + 3} stroke="#000" strokeWidth={1} />;
};

function Panel({ p }: { p: PanelSpec }) {
  const padTop = p.xAxis === "top" ? p.plotTop : 5;
  const padBottom = p.xAxis === "bottom" ? 1133 - p.plotBottom : p.xAxis === "divider" ? 6 : 5;
  const height = p.plotBottom - p.plotTop + padTop + padBottom;
  const data = p.series.map(([x, y]) => ({ x, y }));
  const ticks = yTickValues(p.yDomain);
  const axisLine = { stroke: "#000", strokeWidth: 1.2 };
  const marginTop = p.xAxis === "top" ? padTop - AX : padTop;
  const marginBottom = p.xAxis === "bottom" || p.xAxis === "divider" ? padBottom - AX : padBottom;

  let xAxis;
  if (p.xAxis === "top") {
    xAxis = (
      <XAxis type="number" dataKey="x" domain={X_DOMAIN} allowDataOverflow orientation="top" height={AX}
        ticks={xMinorTicks} interval={0} tickSize={0} tickMargin={0} axisLine={axisLine} tickLine={false}
        tick={(t: any) => <TopTick {...t} />} />
    );
  } else if (p.xAxis === "bottom") {
    xAxis = (
      <XAxis type="number" dataKey="x" domain={X_DOMAIN} allowDataOverflow orientation="bottom" height={AX}
        ticks={xMinorTicks} interval={0} tickSize={0} tickMargin={0} axisLine={axisLine} tickLine={false}
        tick={(t: any) => <BottomTick {...t} />} />
    );
  } else if (p.xAxis === "divider") {
    xAxis = (
      <XAxis type="number" dataKey="x" domain={X_DOMAIN} allowDataOverflow orientation="bottom" height={AX}
        ticks={xMajorTicks} interval={0} tickSize={0} tickMargin={0} axisLine={axisLine} tickLine={false}
        tick={(t: any) => <DividerTick {...t} />} />
    );
  } else {
    xAxis = <XAxis type="number" dataKey="x" domain={X_DOMAIN} allowDataOverflow hide />;
  }

  return (
    <div style={{ position: "absolute", left: 0, top: p.plotTop - padTop }}>
      <LineChart
        width={W}
        height={height}
        data={data}
        margin={{ top: marginTop, right: W - PLOT_RIGHT - AX, bottom: marginBottom, left: PLOT_LEFT - AX }}
      >
        {xAxis}
        <YAxis yAxisId="l" type="number" domain={p.yDomain} allowDataOverflow width={AX} ticks={ticks}
          interval={0} tickSize={0} tickMargin={0} axisLine={axisLine} tickLine={false}
          tick={(t: any) => <LeftTick {...t} />} />
        <YAxis yAxisId="r" orientation="right" type="number" domain={p.yDomain} allowDataOverflow width={AX}
          ticks={ticks} interval={0} tickSize={0} tickMargin={0} axisLine={axisLine} tickLine={false}
          tick={(t: any) => <RightTick {...t} />} />
        {p.dottedTop && (
          <ReferenceLine yAxisId="l" y={p.yDomain[1]} stroke="#000" strokeWidth={2} strokeDasharray="2 4" ifOverflow="visible" />
        )}
        <Line yAxisId="l" type="linear" dataKey="y" stroke="#000" strokeWidth={1.3} dot={false} isAnimationActive={false} />
      </LineChart>
    </div>
  );
}

const GREEN = "#22ee22";
const MAGENTA = "#c010c0";
const SKY = "#1e96ff";

const orderLabels = [
  { text: "20", x: 80.7, y: 126 },
  { text: "22", x: 184, y: 126 },
  { text: "24", x: 286, y: 106 },
  { text: "26", x: 368.3, y: 128.3 },
  { text: "28", x: 475.7, y: 128.3 },
  { text: "30", x: 566, y: 130.7 },
];

const frameLabels = [
  { text: "N=000", y: 97.7 },
  { text: "001", y: 281.7 },
  { text: "002", y: 441.3 },
  { text: "N=000", y: 613 },
  { text: "001", y: 771.3 },
  { text: "002", y: 932.3 },
];

export default function App() {
  return (
    <div style={{ position: "absolute", left: 0, top: 0, width: W, height: 1133, background: "#fff" }}>
      {panels.map((p, i) => (
        <Panel key={i} p={p} />
      ))}
      <svg width={W} height={1133} style={{ position: "absolute", left: 0, top: 0, pointerEvents: "none" }}
        fontFamily={FONT} fontWeight="bold">
        <text x={55} y={24} fontSize={15} fill="#1414ff">Before BG correction.</text>
        <text x={219} y={24} fontSize={18.5} fill="#000" fontFamily='"DejaVu Sans", Verdana, sans-serif'
          textLength={389} lengthAdjust="spacing">Binning 2 x 2 image, Y=296 pixels.</text>
        <text x={73} y={92} fontSize={19.5} fill={MAGENTA}>Unsmoothed profiles</text>
        <text x={72.7} y={602} fontSize={19.5} fill={MAGENTA}>Smoothed Profiles</text>
        {orderLabels.map((l) => (
          <text key={l.text} x={l.x} y={l.y} fontSize={17} fill={GREEN}>{l.text}</text>
        ))}
        {frameLabels.map((l, i) => (
          <text key={i} x={603.5} y={l.y} fontSize={17} fill={SKY} textAnchor="end">{l.text}</text>
        ))}
        <text x={333} y={1128} fontSize={19} fill="#000" textAnchor="middle">X (pixel)</text>
      </svg>
    </div>
  );
}
